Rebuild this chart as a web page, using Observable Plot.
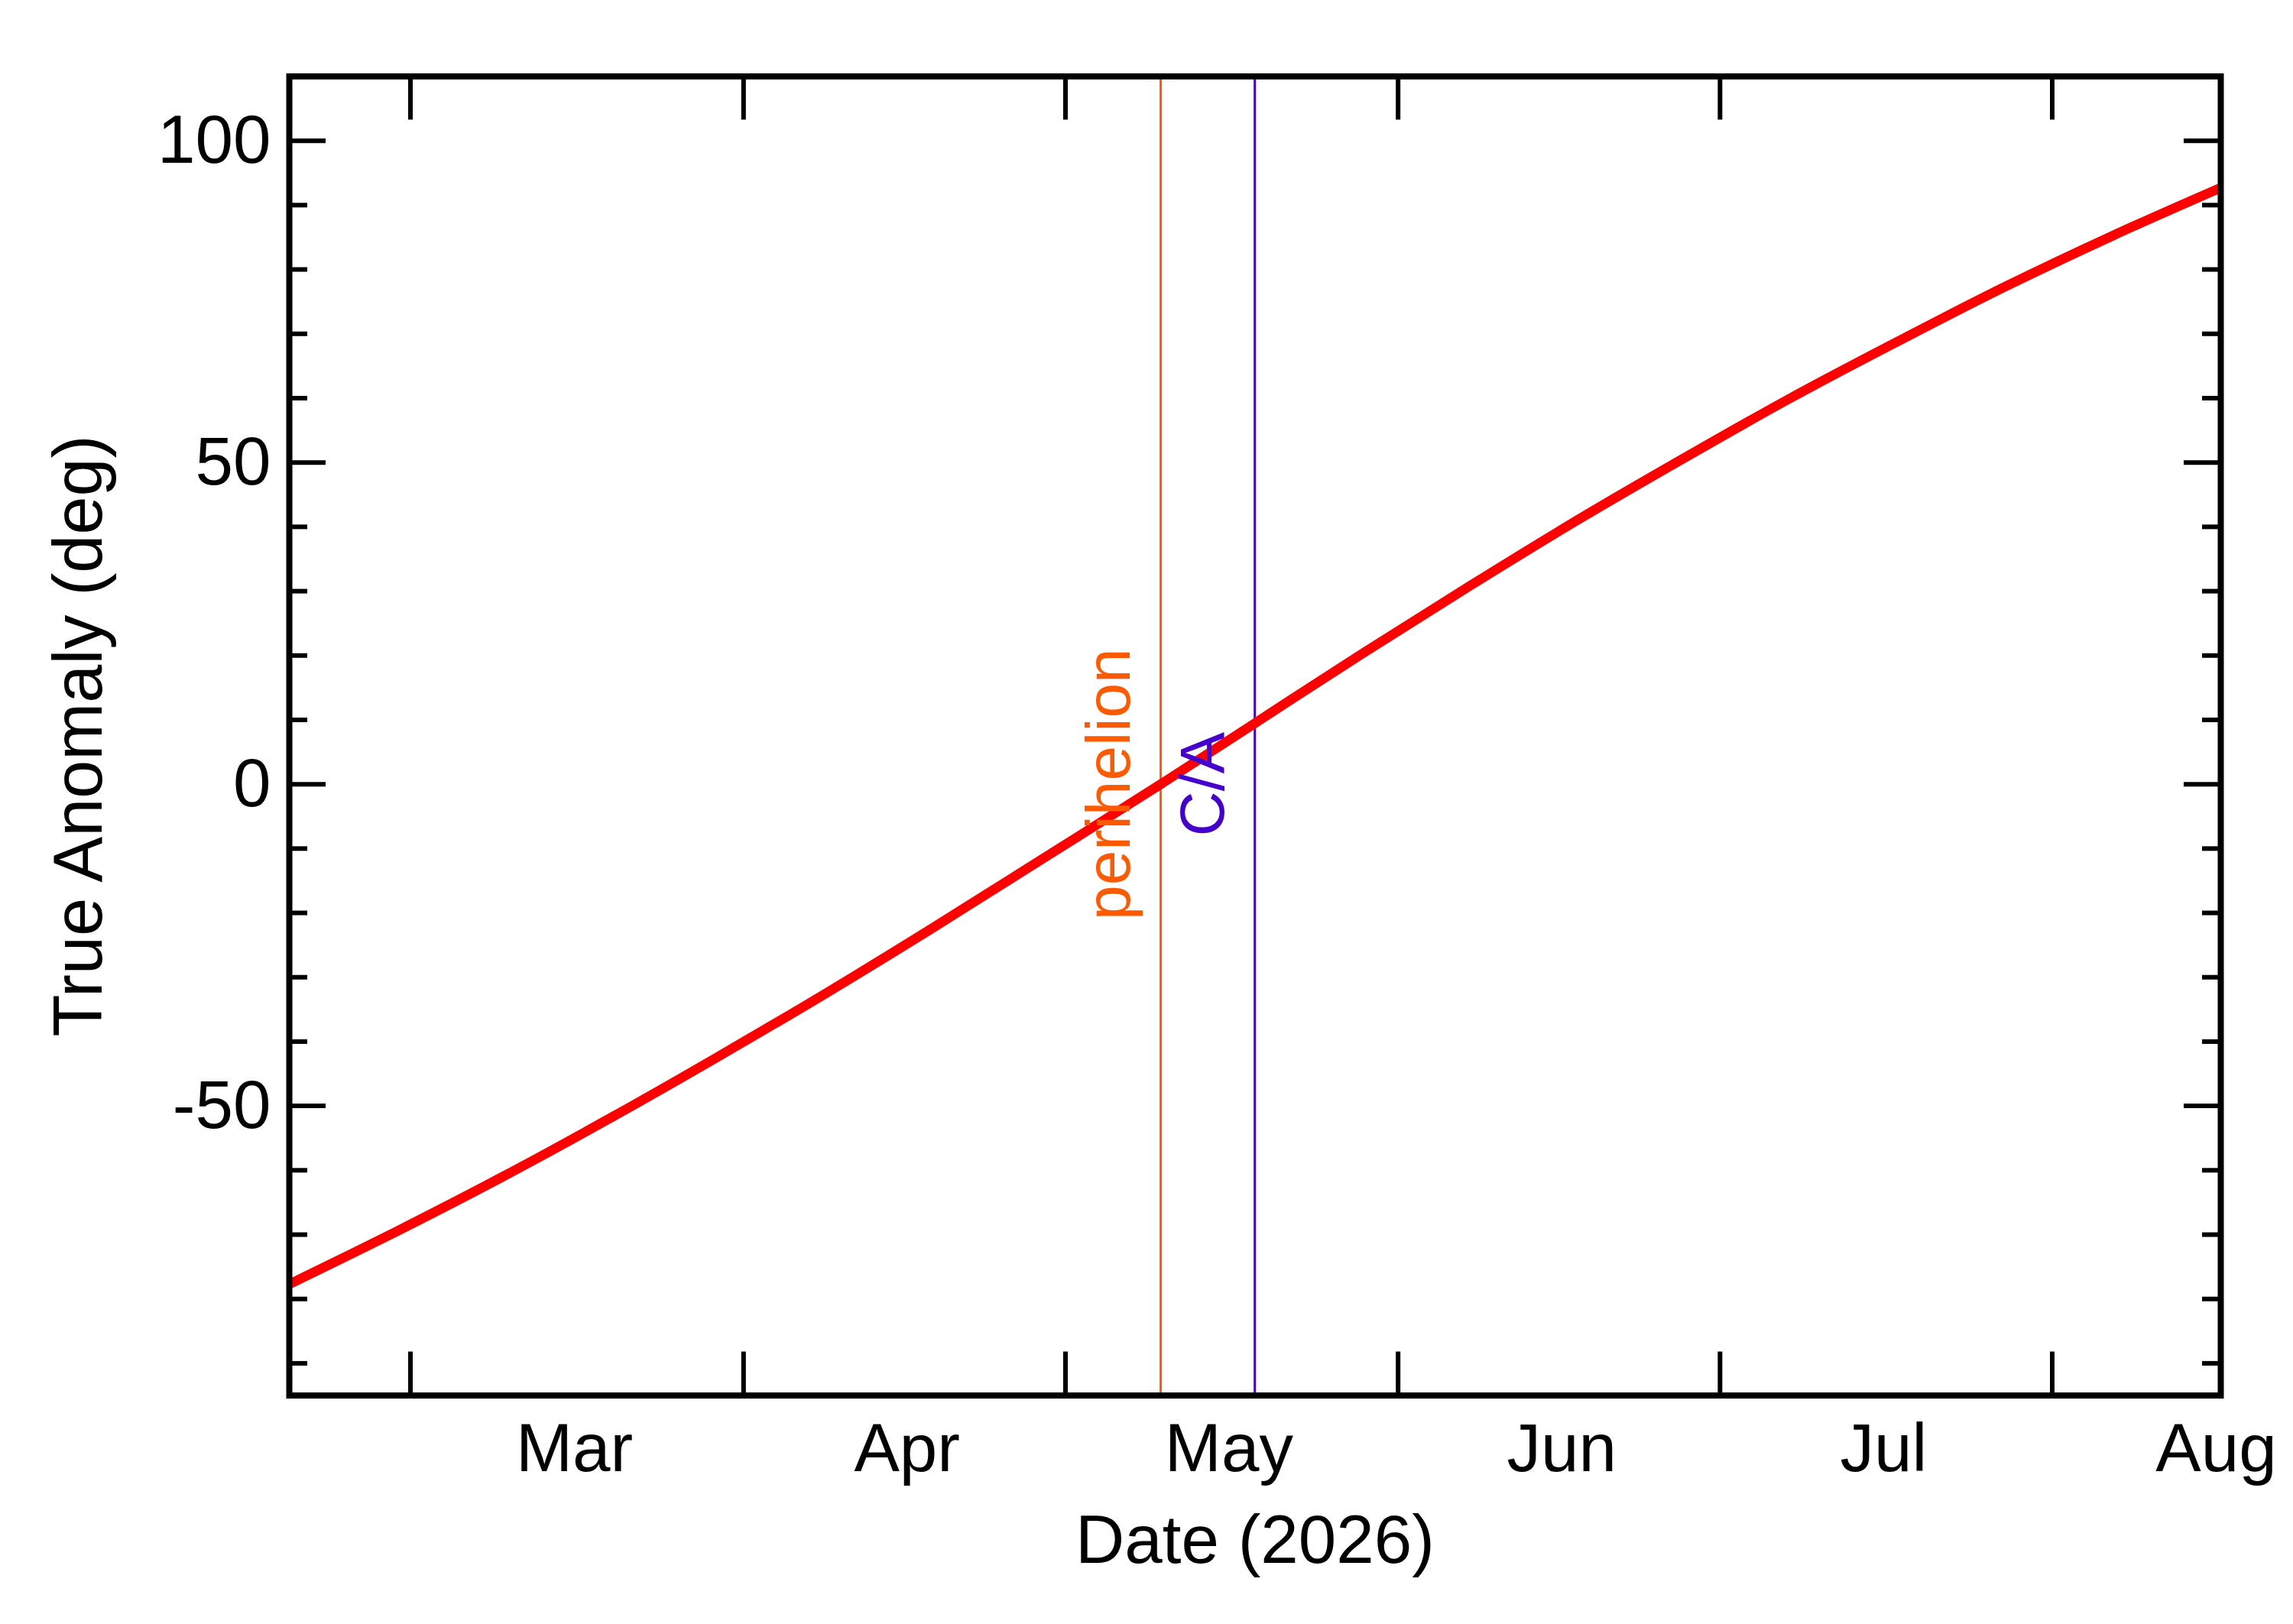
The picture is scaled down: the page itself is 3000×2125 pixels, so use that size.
<!DOCTYPE html>
<html>
<head>
<meta charset="utf-8">
<script src="https://cdn.jsdelivr.net/npm/d3@7"></script>
<script src="https://cdn.jsdelivr.net/npm/@observablehq/plot@0.6"></script>
<style>
  html, body { margin: 0; padding: 0; background: #ffffff; }
  #chart svg { display: block; }
</style>
</head>
<body>
<div id="chart"></div>
<script>
// ---- data ----
const dates = [
  "2026-02-02", "2026-02-12", "2026-02-22", "2026-03-04", "2026-03-14",
  "2026-03-24", "2026-04-03", "2026-04-13", "2026-04-24T05:00Z", "2026-05-03",
  "2026-05-13", "2026-05-23", "2026-06-02", "2026-06-12", "2026-06-22",
  "2026-07-02", "2026-07-12", "2026-07-22", "2026-08-01"
];
const anomaly = [
  -77.7, -69.5, -60.9, -51.8, -42.3,
  -32.5, -22.3, -11.8, 0.0, 9.5,
  20.3, 30.8, 41.0, 50.7, 60.1,
  68.9, 77.4, 85.3, 92.7
];
const yMajorTicks = [-50, 0, 50, 100];
const yMinorTicks = [-90, -80, -70, -60, -40, -30, -20, -10, 10, 20, 30, 40, 60, 70, 80, 90];
const xTickDates = [
  "2026-02-13T07:00Z", "2026-03-16T08:00Z", "2026-04-15T08:00Z",
  "2026-05-16T08:00Z", "2026-06-15T08:00Z", "2026-07-16T07:00Z"
];
const monthLabelDates = ["2026-03-01", "2026-04-01", "2026-05-01", "2026-06-01", "2026-07-01", "2026-08-01"];
const events = [
  {date: "2026-04-24T05:00Z", label: "perihelion", color: "#ff5a00"},
  {date: "2026-05-02T23:30Z", label: "C/A", color: "#4400cc"}
];
const xDomain = ["2026-02-02", "2026-08-01"];
const yDomain = [-95, 110];
const xTitle = "Date (2026)";
const yTitle = "True Anomaly (deg)";

// ---- build ----
const data = dates.map((d, i) => ({date: new Date(d), value: anomaly[i]}));
const eventData = events.map(e => ({date: new Date(e.date), value: 0, label: e.label, color: e.color}));

const W = 3000, H = 2125;
const mL = 378, mR = 95, mT = 99.5, mB = 299.5;
const pw = W - mL - mR, ph = H - mT - mB;
const font = "'Liberation Sans', Arial, Helvetica, sans-serif";

const chart = Plot.plot({
  width: W, height: H,
  marginLeft: mL, marginRight: mR, marginTop: mT, marginBottom: mB,
  style: {fontFamily: font, background: "white", color: "black", overflow: "visible"},
  x: {type: "utc", domain: xDomain.map(d => new Date(d))},
  y: {domain: yDomain},
  marks: [
    Plot.ruleX(eventData, {x: "date", stroke: "color", strokeWidth: 3}),
    Plot.line(data, {x: "date", y: "value", stroke: "#ff0000", strokeWidth: 12.5, curve: "monotone-x", clip: true}),
    Plot.text(eventData, {x: "date", y: "value", text: "label", fill: "color", rotate: -90,
      dx: -41, lineAnchor: "bottom", textAnchor: "middle", fontSize: 82}),
    // inward ticks
    Plot.tickY(yMajorTicks, {y: d => d, insetRight: pw - 48, strokeWidth: 6, stroke: "black"}),
    Plot.tickY(yMajorTicks, {y: d => d, insetLeft: pw - 48, strokeWidth: 6, stroke: "black"}),
    Plot.tickY(yMinorTicks, {y: d => d, insetRight: pw - 24, strokeWidth: 6, stroke: "black"}),
    Plot.tickY(yMinorTicks, {y: d => d, insetLeft: pw - 24, strokeWidth: 6, stroke: "black"}),
    Plot.tickX(xTickDates, {x: d => new Date(d), insetTop: ph - 57, strokeWidth: 6, stroke: "black"}),
    Plot.tickX(xTickDates, {x: d => new Date(d), insetBottom: ph - 57, strokeWidth: 6, stroke: "black"}),
    Plot.frame({stroke: "black", strokeWidth: 8}),
    // tick labels
    Plot.axisY(yMajorTicks, {tickSize: 0, tickPadding: 24, fontSize: 89, tickFormat: d => String(d), label: null}),
    Plot.axisX(monthLabelDates.map(d => new Date(d)), {tickSize: 0, tickPadding: 36, fontSize: 89, dx: -6,
      tickFormat: d3.utcFormat("%b"), label: null}),
    // axis titles
    Plot.text([xTitle], {text: d => d, frameAnchor: "bottom", dy: 218.5, lineAnchor: "bottom", textAnchor: "middle", fontSize: 89, fill: "black"}),
    Plot.text([yTitle], {text: d => d, frameAnchor: "left", rotate: -90, dx: -246, lineAnchor: "bottom", textAnchor: "middle", fontSize: 90, fill: "black"})
  ]
});
document.getElementById("chart").appendChild(chart);
</script>
</body>
</html>
